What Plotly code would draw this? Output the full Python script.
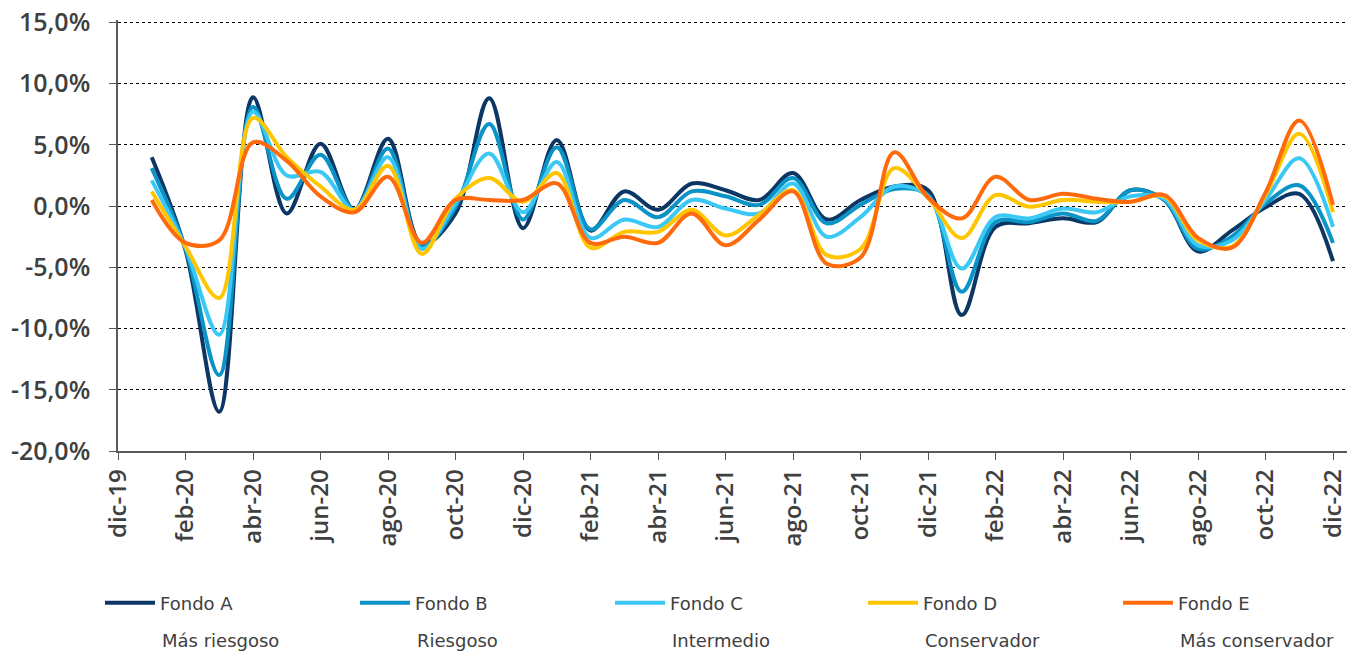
import plotly.graph_objects as go

# months: 1 = ene-20 ... 36 = dic-22
months = list(range(1, 37))
tick_vals = list(range(0, 37, 2))
tick_text = ["dic-19", "feb-20", "abr-20", "jun-20", "ago-20", "oct-20", "dic-20",
             "feb-21", "abr-21", "jun-21", "ago-21", "oct-21", "dic-21",
             "feb-22", "abr-22", "jun-22", "ago-22", "oct-22", "dic-22"]
y_vals = [15, 10, 5, 0, -5, -10, -15, -20]
y_text = ["15,0%", "10,0%", "5,0%", "0,0%", "-5,0%", "-10,0%", "-15,0%", "-20,0%"]

fondo_a = [4.0, -3.6, -16.8, 8.9, -0.6, 5.1, -0.3, 5.5, -3.1, -0.6, 8.8, -1.8,
           5.4, -2.0, 1.2, -0.3, 1.85, 1.3, 0.5, 2.7, -1.1, 0.5, 1.6, 1.3,
           -8.9, -1.7, -1.4, -1.0, -1.3, 1.3, 0.5, -3.7, -2.0, -0.1, 1.0, -4.5]
fondo_b = [3.1, -3.5, -13.8, 8.1, 0.6, 4.2, -0.3, 4.7, -3.3, -0.1, 6.7, -1.1,
           4.8, -1.9, 0.5, -0.9, 1.2, 0.8, 0.1, 2.3, -1.4, 0.1, 1.4, 0.9,
           -7.0, -1.3, -1.3, -0.6, -1.2, 1.3, 0.5, -3.5, -2.5, 0.2, 1.7, -3.0]
fondo_c = [2.1, -3.4, -10.5, 7.7, 2.5, 2.8, -0.3, 4.0, -3.5, 0.2, 4.3, -0.5,
           3.6, -2.6, -1.1, -1.7, 0.5, -0.2, -0.6, 1.85, -2.5, -0.9, 1.6, 0.8,
           -5.1, -0.9, -1.0, -0.2, -0.5, 0.8, 0.6, -3.2, -2.8, 0.5, 3.9, -1.7]
fondo_d = [1.2, -3.3, -7.5, 7.2, 4.0, 1.6, -0.3, 3.3, -3.9, 0.6, 2.3, 0.35,
           2.7, -3.4, -2.1, -2.1, -0.3, -2.4, -0.7, 1.3, -4.0, -3.5, 3.1, 0.7,
           -2.6, 0.9, -0.05, 0.5, 0.35, 0.35, 0.8, -2.8, -3.3, 0.9, 5.9, -0.5]
fondo_e = [0.5, -3.0, -2.8, 5.2, 3.7, 0.8, -0.5, 2.4, -3.0, 0.5, 0.5, 0.5,
           1.85, -3.0, -2.5, -3.0, -0.6, -3.2, -1.1, 1.2, -4.7, -4.2, 4.4, 0.7,
           -1.0, 2.4, 0.5, 1.0, 0.6, 0.35, 0.9, -2.6, -3.4, 1.1, 7.0, 0.1]

names = ["Fondo A", "Fondo B", "Fondo C", "Fondo D", "Fondo E"]
sublabels = ["Más riesgoso", "Riesgoso", "Intermedio", "Conservador", "Más conservador"]
colors = ["#0c3764", "#0a93c6", "#3cc8f5", "#ffc600", "#ff6a0d"]
series = [fondo_a, fondo_b, fondo_c, fondo_d, fondo_e]

# the page has an 8px body margin: figure pixel = screen pixel - 8
OFF = 8
Y_TOP = 15.2
W, H = 1355 - OFF, 651 - OFF
L = 118 - OFF
T = round((22 - (Y_TOP - 15) * (451 - 22) / 35) - OFF)
R = 0
B = H - (451 - OFF)
pw = W - L - R
ph = H - T - B


def px(xs):
    return (xs - OFF - L) / pw


def py(ys):
    return ((H - B) - (ys - OFF)) / ph


text_starts = [160, 415, 670, 923, 1178]
legend_ids = ["legend", "legend2", "legend3", "legend4", "legend5"]

fig = go.Figure()
for name, vals, col, lid in zip(names, series, colors, legend_ids):
    fig.add_trace(go.Scatter(
        x=months, y=vals, name=name, mode="lines", legend=lid,
        line=dict(color=col, width=4, shape="spline", smoothing=1.0),
    ))

legend_font = dict(family="DejaVu Sans", size=18, color="#404040")
legends = {}
for lid, xs in zip(legend_ids, text_starts):
    legends[lid] = dict(
        orientation="h", x=px(xs - 60), xanchor="left",
        y=py(603), yanchor="middle",
        font=legend_font, itemwidth=50, bgcolor="rgba(0,0,0,0)",
    )

for lab, xs in zip(sublabels, text_starts):
    fig.add_annotation(
        text=lab, xref="paper", yref="paper",
        x=px(xs), y=py(640),
        xanchor="left", yanchor="middle", showarrow=False,
        font=legend_font,
    )

fig.update_layout(
    width=W, height=H,
    margin=dict(l=L, r=R, t=T, b=B, pad=0, autoexpand=False),
    paper_bgcolor="white", plot_bgcolor="white",
    showlegend=True,
    **legends,
    xaxis=dict(
        range=[0, 36 + (1355 - 1333) / 33.75], tickvals=tick_vals, ticktext=tick_text,
        tickangle=-90, ticks="outside", ticklen=7, tickwidth=1.3, tickcolor="#595959",
        showline=True, linecolor="#595959", linewidth=1.5,
        showgrid=False, zeroline=False, automargin=False,
        tickfont=dict(family="Open Sans", size=24, color="#404040", weight=600),
    ),
    yaxis=dict(
        range=[-20, Y_TOP], tickvals=y_vals, ticktext=y_text,
        ticks="outside", ticklen=7, tickwidth=1.3, tickcolor="#595959",
        showline=True, linecolor="#595959", linewidth=1.5,
        showgrid=True, gridcolor="#000000", gridwidth=1, griddash="dot",
        zeroline=False, ticklabelstandoff=14, automargin=False,
        ticklabeloverflow="allow",
        tickfont=dict(family="Open Sans", size=25, color="#404040", weight=600),
    ),
)

fig.write_html("out.html")
